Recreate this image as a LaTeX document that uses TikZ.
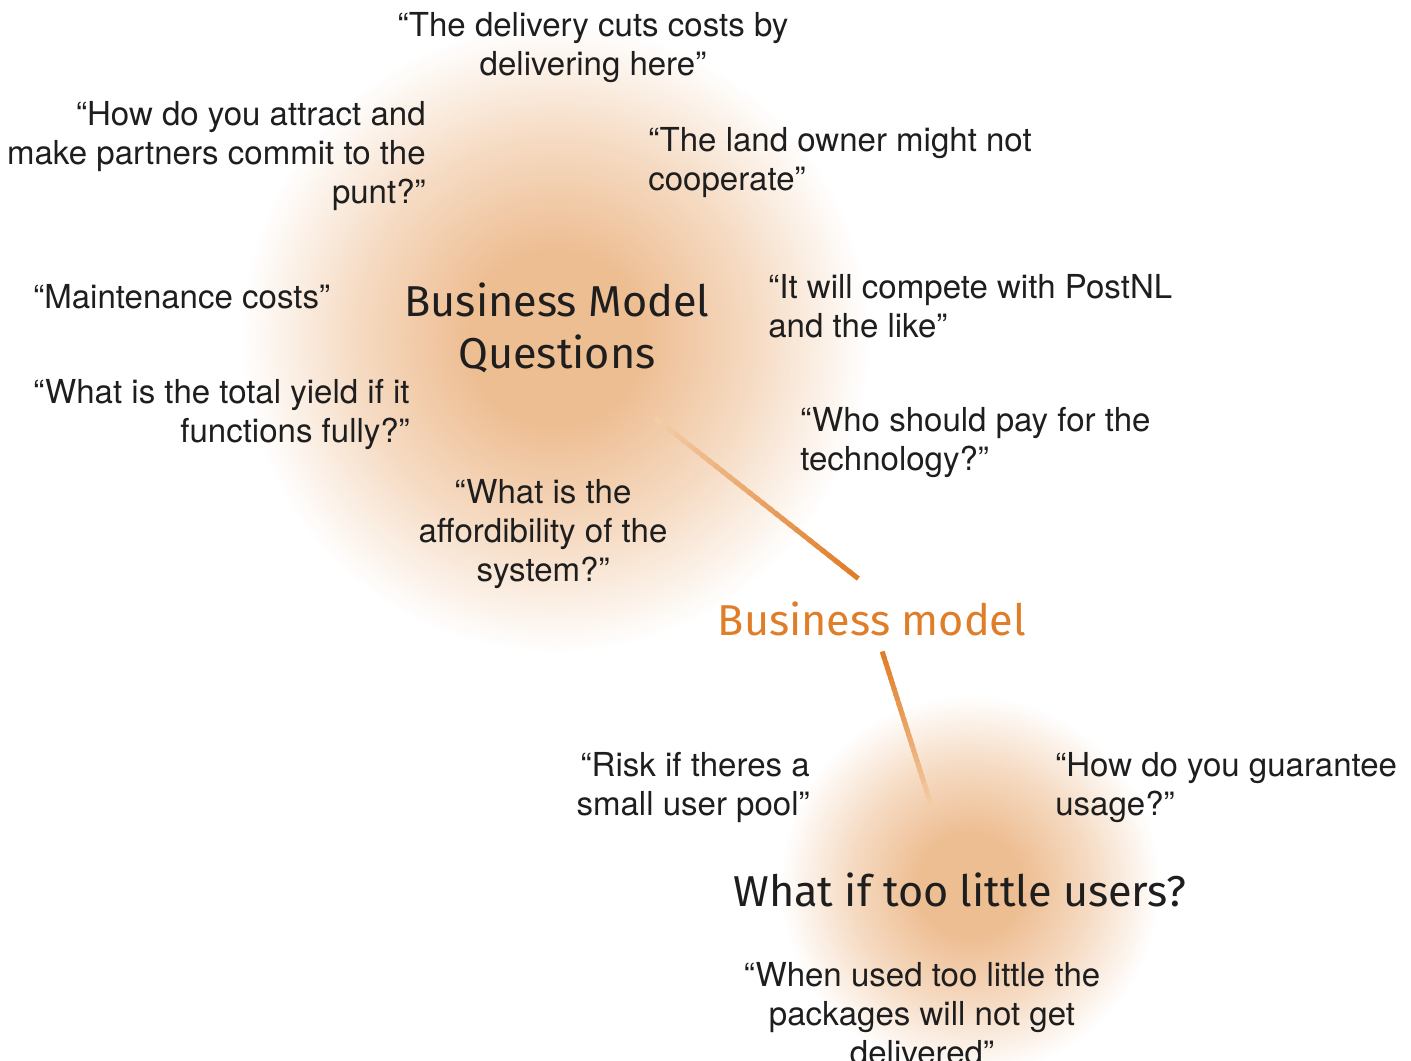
\documentclass[tikz,border=0pt]{standalone}
\usepackage{fontspec}
\setmainfont{TeX Gyre Heros}
\newfontfamily\dinfont{Fira Sans}
\usetikzlibrary{calc}
\definecolor{AccentOrange}{HTML}{E07D28}
\definecolor{BlobCore}{HTML}{EEBE93}
\definecolor{LineFade}{HTML}{F3CDA6}
\definecolor{TextBlack}{HTML}{1E1E1E}
\colorlet{BlobMid}{BlobCore!55!white}
\pgfdeclareradialshading{blobshade}{\pgfpoint{0bp}{0bp}}{color(0bp)=(BlobCore); color(7bp)=(BlobCore); color(16bp)=(BlobMid); color(25bp)=(white); color(50bp)=(white)}
\tikzset{
  quote/.style={inner sep=0pt, font=\fontsize{18.8}{22.2}\selectfont, text=TextBlack},
  title/.style={inner sep=0pt, align=center, font=\dinfont\fontsize{24.6}{29.6}\selectfont, text=TextBlack},
  fadeline/.style={line width=2.8pt, line cap=butt}
}

\begin{document}
\begin{tikzpicture}[x=0.02cm, y=-0.02cm]
\useasboundingbox (0,0) rectangle (1411,1061);

% blobs
\shade[shading=blobshade] (555,338) circle (6.3cm);
\shade[shading=blobshade] (970,885) circle (3.8cm);

% titles
\node[title] (qtitle) at (557,328) {Business Model\\Questions};
\node[title, text=AccentOrange] (bmtitle) at (872,619) {Business model};
\node[title] (utitle) at (960,890) {What if too little users?};

% quotes round the questions
\node[quote, align=center] (qdelivery) at (593,48) {“The delivery cuts costs by\\delivering here”};
\node[quote, align=right, anchor=east] (qpartners) at (426,156) {“How do you attract and\\make partners commit to the\\punt?”};
\node[quote, align=left, anchor=west] (qowner) at (648,163) {“The land owner might not\\cooperate”};
\node[quote, anchor=west] (qmaint) at (33,297) {“Maintenance costs”};
\node[quote, align=left, anchor=west] (qpostnl) at (768,306) {“It will compete with PostNL\\and the like”};
\node[quote, align=right, anchor=east] (qyield) at (410,415) {“What is the total yield if it\\functions fully?”};
\node[quote, align=left, anchor=west] (qpay) at (800,443) {“Who should pay for the\\technology?”};
\node[quote, align=center] (qafford) at (543,534) {“What is the\\affordibility of the\\system?”};

% quotes round the users
\node[quote, align=right, anchor=east] (urisk) at (810,788) {“Risk if theres a\\small user pool”};
\node[quote, align=left, anchor=west] (uguarantee) at (1055,788) {“How do you guarantee\\usage?”};
\node[quote, align=center] (upackages) at (922,1014) {“When used too little the\\packages will not get\\delivered”};

% fading connectors
\coordinate (qfade) at (655,418);
\coordinate (bmhead) at (855,576);
\coordinate (bmtail) at (883,654);
\coordinate (ufade) at (932,808);
\foreach \i in {0,...,29}{
  \pgfmathtruncatemacro\p{100*\i/29}
  \draw[fadeline, draw=AccentOrange!\p!LineFade] ($(qfade)!\i/30!(bmhead)$) -- ($(qfade)!\i/30+1.5/30!(bmhead)$);
  \draw[fadeline, draw=AccentOrange!\p!LineFade] ($(ufade)!\i/30!(bmtail)$) -- ($(ufade)!\i/30+1.5/30!(bmtail)$);
}
\fill[AccentOrange] (bmhead) circle (1.4pt);
\fill[AccentOrange] (bmtail) circle (1.4pt);
\end{tikzpicture}
\end{document}
